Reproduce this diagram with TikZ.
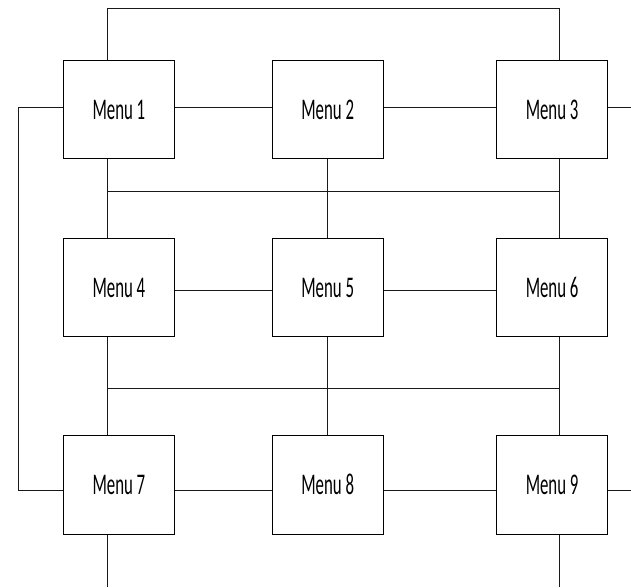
\documentclass[tikz,border=0pt]{standalone}
\usepackage{fontspec}
\newfontfamily\menufont[FakeStretch=0.56]{Carlito}
\begin{document}
\begin{tikzpicture}[x=1pt,y=-1pt,
  menubox/.style={draw=black,line width=1pt,fill=white,minimum width=111pt,minimum height=98.5pt,
    inner sep=0pt,font=\menufont\fontsize{30}{30}\selectfont,text=black},
  link/.style={draw=black!90,line width=1pt}]
\useasboundingbox (0,0) rectangle (631,587);

% routing lanes
\coordinate (v1) at (107,0);
\coordinate (v2) at (327.5,0);
\coordinate (v3) at (559.3,0);
\coordinate (h1) at (0,107);
\coordinate (h2) at (0,290.3);
\coordinate (h3) at (0,490.3);
\coordinate (top) at (0,8.3);
\coordinate (b1) at (0,191.7);
\coordinate (b2) at (0,388.5);
\coordinate (lx) at (18.7,0);
\coordinate (rx) at (631,0);
\coordinate (by) at (0,587);

% menu boxes
\node[menubox] (m1) at (118.9,109.5) {Menu 1};
\node[menubox] (m2) at (327.7,109.5) {Menu 2};
\node[menubox] (m3) at (552.1,109.5) {Menu 3};
\node[menubox] (m4) at (118.9,287.5) {Menu 4};
\node[menubox] (m5) at (327.7,287.5) {Menu 5};
\node[menubox] (m6) at (552.1,287.5) {Menu 6};
\node[menubox] (m7) at (118.9,484.8) {Menu 7};
\node[menubox] (m8) at (327.7,484.8) {Menu 8};
\node[menubox] (m9) at (552.1,484.8) {Menu 9};

% row links
\draw[link] (m1.east |- h1) -- (m2.west |- h1);
\draw[link] (m2.east |- h1) -- (m3.west |- h1);
\draw[link] (m4.east |- h2) -- (m5.west |- h2);
\draw[link] (m5.east |- h2) -- (m6.west |- h2);
\draw[link] (m7.east |- h3) -- (m8.west |- h3);
\draw[link] (m8.east |- h3) -- (m9.west |- h3);

% top loop and left loop
\draw[link] (m1.north -| v1) -- (v1 |- top) -- (v3 |- top) -- (m3.north -| v3);
\draw[link] (m1.west |- h1) -- (lx |- h1) -- (lx |- h3) -- (m7.west |- h3);

% outgoing stubs
\draw[link] (m3.east |- h1) -- (rx |- h1);
\draw[link] (m9.east |- h3) -- (rx |- h3);
\draw[link] (m7.south -| v1) -- (v1 |- by);
\draw[link] (m9.south -| v3) -- (v3 |- by);

% buses between rows
\draw[link] (v1 |- b1) -- (v3 |- b1);
\draw[link] (m1.south -| v1) -- (m4.north -| v1);
\draw[link] (m2.south -| v2) -- (m5.north -| v2);
\draw[link] (m3.south -| v3) -- (m6.north -| v3);
\draw[link] (v1 |- b2) -- (v3 |- b2);
\draw[link] (m4.south -| v1) -- (m7.north -| v1);
\draw[link] (m5.south -| v2) -- (m8.north -| v2);
\draw[link] (m6.south -| v3) -- (m9.north -| v3);
\end{tikzpicture}
\end{document}
